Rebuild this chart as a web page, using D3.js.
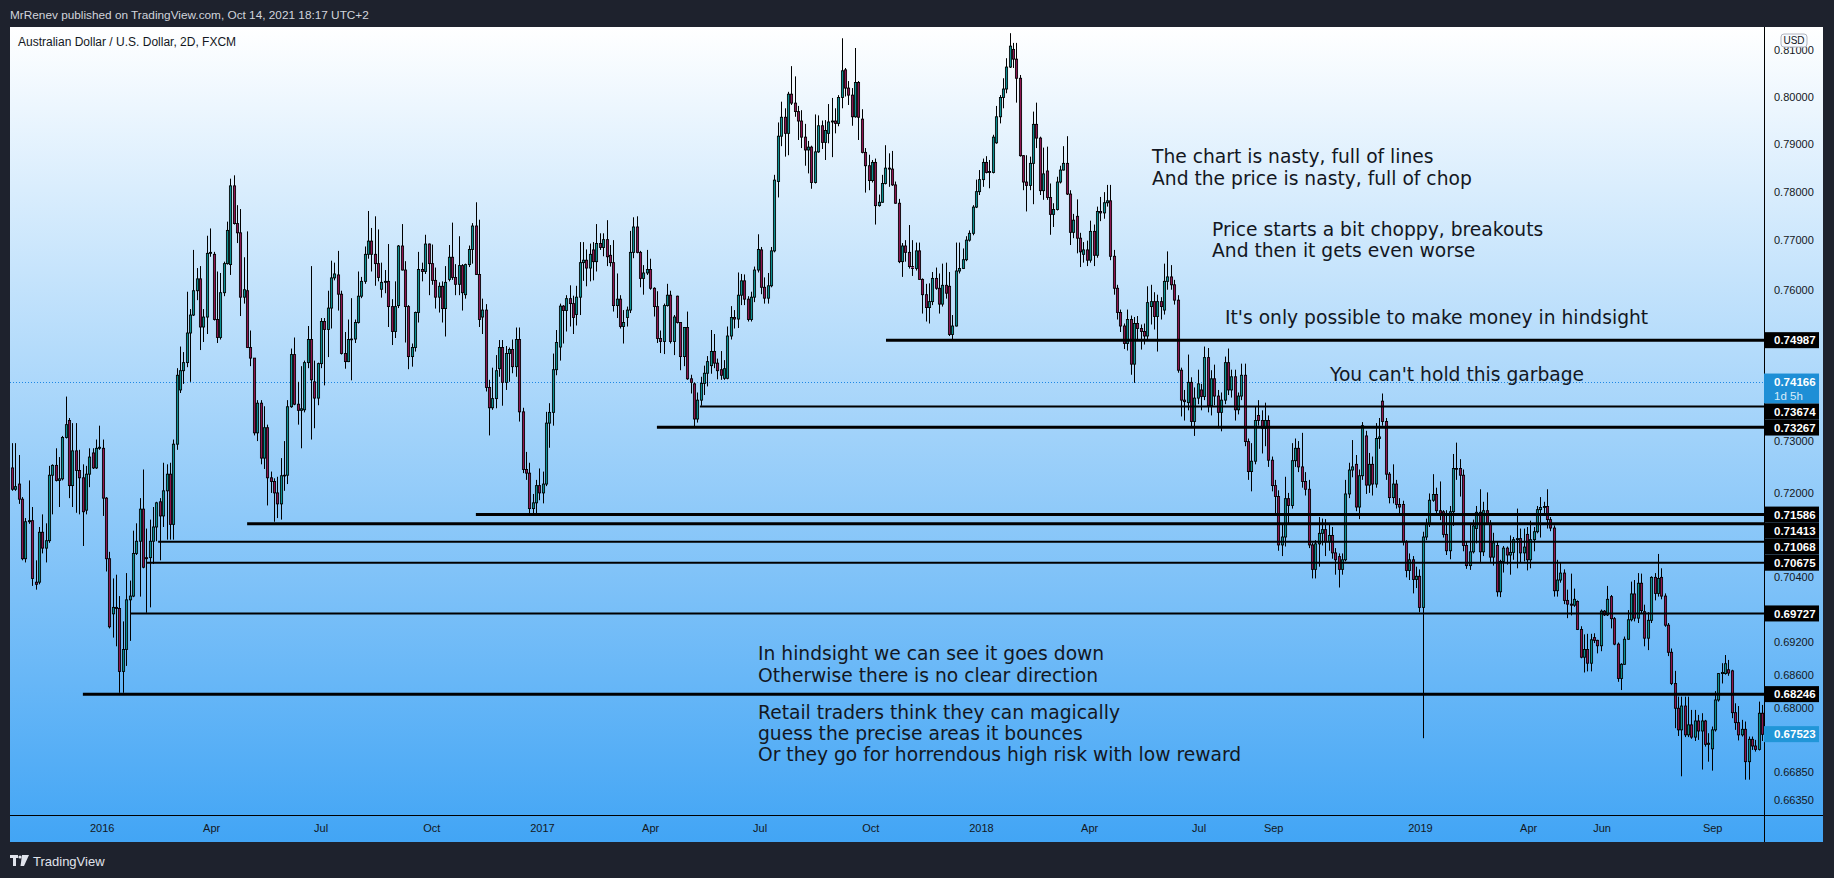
<!DOCTYPE html>
<html><head><meta charset="utf-8">
<script src="https://cdn.jsdelivr.net/npm/d3@7"></script>
<style>html,body{margin:0;padding:0;background:#1e222d;overflow:hidden}</style>
</head><body>
<svg id="c" width="1834" height="878"></svg>
<script>
// ---- DATA (prices in 1/10000 of a USD, AUD/USD 2D candles) ----
const opens = [
7248,7207,7217,7188,7075,7145,7147,7031,7031,7125,
7095,7109,7234,7253,7224,7227,7307,7340,7214,7281,
7243,7229,7167,7236,7277,7248,7286,7286,7190,7075,
6972,6984,6982,6866,6906,6998,7005,7085,7108,7169,
7077,7077,7108,7135,7183,7156,7204,7236,7140,7294,
7400,7438,7454,7513,7549,7598,7622,7525,7545,7674,
7672,7540,7504,7594,7653,7651,7813,7735,7716,7585,
7598,7484,7463,7316,7374,7267,7326,7229,7222,7200,
7179,7233,7234,7367,7470,7372,7360,7361,7454,7500,
7416,7384,7452,7536,7520,7563,7624,7630,7591,7472,
7456,7500,7501,7534,7587,7617,7672,7699,7672,7653,
7601,7615,7617,7566,7516,7568,7689,7640,7566,7466,
7484,7554,7641,7637,7693,7653,7619,7585,7607,7562,
7621,7666,7625,7611,7649,7590,7651,7682,7730,7631,
7545,7559,7405,7365,7383,7442,7484,7415,7472,7480,
7446,7500,7357,7245,7238,7170,7181,7214,7200,7217,
7335,7356,7440,7485,7567,7558,7582,7572,7550,7585,
7655,7660,7644,7681,7657,7694,7686,7702,7670,7655,
7568,7581,7526,7544,7559,7676,7728,7676,7623,7634,
7641,7603,7566,7502,7496,7568,7589,7496,7587,7534,
7466,7524,7422,7412,7343,7380,7413,7433,7448,7476,
7453,7440,7423,7423,7507,7544,7541,7589,7618,7581,
7540,7585,7640,7681,7605,7583,7608,7679,7822,7917,
7957,7923,8006,7987,7969,7949,7915,7888,7894,7820,
7884,7939,7904,7923,7947,7949,7944,7999,8058,8019,
8004,7958,8031,7953,7883,7855,7824,7862,7772,7779,
7818,7850,7848,7815,7777,7657,7689,7676,7647,7643,
7679,7621,7590,7564,7576,7623,7603,7571,7609,7607,
7510,7527,7638,7643,7661,7701,7715,7769,7801,7826,
7862,7841,7841,7903,7958,7999,8017,8064,8102,8081,
8040,7876,7821,7814,7860,7942,7913,7803,7844,7789,
7754,7764,7821,7846,7860,7796,7717,7750,7705,7672,
7681,7660,7719,7670,7760,7757,7778,7782,7668,7603,
7554,7527,7492,7540,7451,7532,7522,7516,7507,7566,
7576,7546,7576,7559,7617,7626,7610,7579,7439,7380,
7375,7415,7338,7384,7400,7387,7464,7369,7422,7388,
7356,7380,7454,7400,7426,7361,7388,7429,7299,7241,
7261,7350,7340,7325,7340,7263,7214,7193,7101,7116,
7189,7176,7262,7286,7250,7222,7207,7101,7055,7103,
7123,7130,7107,7119,7086,7079,7055,7073,7198,7244,
7255,7173,7233,7310,7215,7255,7217,7305,7378,7338,
7236,7191,7217,7178,7178,7107,7053,7073,7036,7042,
6984,7116,7141,7186,7197,7166,7164,7121,7090,7164,
7247,7247,7234,7100,7062,7088,7132,7163,7088,7166,
7141,7078,7100,7013,7070,7095,7082,7087,7111,7113,
7086,7121,7073,7111,7126,7168,7172,7174,7149,7133,
7015,7035,7048,6997,6990,6988,6995,6943,6892,6906,
6881,6928,6923,6913,6977,6970,7004,6963,6916,6853,
6879,6925,6961,7009,6964,7029,6976,6927,6960,7040,
7010,7040,7005,6951,6901,6844,6799,6760,6803,6751,
6769,6747,6776,6758,6776,6734,6726,6760,6814,6862,
6862,6869,6867,6791,6773,6751,6761,6703,6743,6731,
6725,6790];
const highs = [
7296,7296,7273,7192,7152,7224,7173,7072,7135,7159,
7142,7252,7255,7286,7269,7310,7387,7345,7335,7335,
7283,7255,7252,7286,7286,7303,7330,7303,7192,7088,
7038,7045,7005,6958,7048,7034,7128,7142,7190,7245,
7132,7149,7173,7183,7190,7258,7255,7258,7303,7443,
7486,7475,7596,7561,7681,7644,7648,7561,7710,7725,
7677,7637,7634,7657,7739,7828,7835,7773,7765,7666,
7719,7518,7463,7380,7380,7368,7332,7241,7228,7231,
7267,7300,7380,7482,7504,7416,7447,7458,7527,7648,
7458,7454,7543,7543,7598,7659,7655,7679,7598,7515,
7540,7583,7540,7637,7626,7688,7761,7726,7750,7723,
7655,7640,7693,7581,7617,7691,7734,7658,7569,7492,
7556,7677,7655,7712,7694,7692,7645,7615,7617,7648,
7691,7737,7652,7709,7652,7653,7690,7736,7779,7743,
7582,7571,7420,7444,7469,7499,7499,7487,7484,7500,
7524,7524,7365,7279,7258,7198,7225,7247,7241,7357,
7374,7472,7519,7572,7569,7589,7609,7588,7608,7697,
7697,7682,7694,7697,7734,7715,7715,7742,7691,7701,
7633,7589,7559,7566,7720,7748,7750,7679,7650,7681,
7663,7605,7597,7518,7572,7612,7598,7549,7588,7535,
7525,7556,7430,7415,7395,7426,7448,7467,7519,7511,
7462,7477,7459,7526,7567,7559,7635,7632,7631,7587,
7596,7647,7713,7687,7625,7634,7687,7836,7946,7990,
7976,8011,8066,8044,7981,7972,7943,7907,7897,7963,
7961,7950,7951,7985,7998,7976,8004,8126,8062,8034,
8019,8105,8034,7974,7892,7878,7867,7870,7795,7836,
7898,7881,7886,7822,7786,7695,7701,7732,7701,7696,
7696,7623,7612,7613,7636,7645,7633,7653,7655,7636,
7549,7696,7696,7684,7709,7721,7773,7826,7846,7870,
7875,7867,7920,7981,8004,8040,8083,8137,8116,8116,
8047,7877,7877,7874,7969,7988,7916,7893,7895,7818,
7777,7832,7855,7896,7917,7804,7755,7785,7716,7697,
7700,7741,7733,7770,7790,7800,7815,7815,7681,7610,
7560,7532,7560,7548,7545,7547,7530,7532,7607,7610,
7595,7590,7585,7653,7678,7650,7620,7589,7444,7400,
7470,7425,7405,7440,7412,7486,7483,7439,7450,7400,
7395,7466,7482,7440,7440,7395,7452,7452,7305,7296,
7367,7380,7360,7375,7350,7270,7225,7205,7140,7231,
7200,7296,7305,7300,7316,7240,7225,7105,7110,7154,
7151,7150,7140,7135,7095,7085,7085,7225,7258,7302,
7273,7245,7337,7320,7277,7270,7335,7345,7393,7345,
7240,7255,7225,7190,7185,7110,7085,7080,7060,7055,
7126,7151,7199,7236,7210,7222,7167,7167,7175,7275,
7297,7265,7245,7107,7139,7149,7175,7207,7183,7201,
7148,7124,7108,7073,7099,7098,7119,7116,7170,7132,
7132,7135,7147,7135,7175,7192,7183,7207,7154,7138,
7073,7068,7055,7017,7047,7019,6997,6949,6934,6935,
6935,6936,6924,6980,6979,7024,7007,6966,6919,6881,
6930,6979,7032,7035,7048,7047,6989,6975,7042,7048,
7084,7057,7010,6955,6908,6867,6820,6820,6820,6820,
6796,6796,6787,6790,6778,6754,6766,6830,6863,6881,
6896,6887,6869,6808,6803,6778,6775,6748,6748,6742,
6811,6805];
const lows = [
7204,7204,7179,7072,7068,7141,7024,7017,7027,7085,
7068,7105,7159,7222,7173,7224,7305,7190,7173,7162,
7159,7099,7159,7211,7246,7246,7283,7156,7051,6945,
6928,6912,6827,6827,6876,6922,7003,7082,7004,7057,
6974,6984,7065,7108,7072,7135,7111,7111,7111,7283,
7394,7412,7445,7416,7547,7579,7479,7495,7511,7667,
7538,7493,7500,7587,7651,7630,7733,7695,7547,7572,
7483,7447,7311,7300,7255,7246,7176,7200,7145,7152,
7149,7204,7217,7365,7370,7332,7286,7356,7443,7303,
7325,7370,7443,7409,7465,7522,7619,7558,7470,7442,
7455,7419,7493,7532,7583,7612,7663,7637,7608,7617,
7584,7593,7525,7489,7503,7563,7639,7494,7441,7446,
7476,7534,7617,7632,7589,7610,7562,7554,7534,7506,
7617,7620,7589,7589,7558,7582,7646,7653,7630,7525,
7511,7397,7311,7361,7364,7426,7369,7400,7416,7433,
7426,7338,7238,7225,7161,7161,7161,7186,7180,7213,
7287,7330,7429,7458,7492,7516,7526,7511,7528,7549,
7618,7607,7617,7619,7637,7681,7668,7648,7647,7556,
7543,7522,7492,7526,7553,7664,7674,7605,7590,7630,
7600,7546,7493,7473,7471,7566,7492,7469,7532,7439,
7447,7420,7393,7328,7336,7369,7390,7407,7432,7443,
7421,7420,7420,7421,7500,7522,7523,7569,7569,7536,
7536,7575,7635,7591,7572,7572,7605,7676,7789,7896,
7874,7877,7983,7958,7909,7892,7855,7839,7807,7818,
7882,7890,7867,7902,7873,7923,7938,7976,8001,7983,
7939,7956,7909,7881,7799,7804,7820,7733,7770,7778,
7816,7811,7813,7776,7654,7626,7657,7643,7628,7639,
7620,7552,7536,7532,7569,7600,7552,7566,7582,7507,
7500,7526,7633,7642,7658,7698,7711,7767,7794,7811,
7839,7808,7839,7901,7944,7976,8008,8062,8062,7988,
7874,7804,7760,7804,7775,7892,7794,7784,7784,7712,
7728,7762,7818,7845,7794,7691,7705,7674,7646,7655,
7648,7655,7648,7665,7740,7745,7770,7660,7590,7540,
7515,7481,7478,7430,7414,7500,7480,7490,7500,7530,
7520,7476,7540,7550,7600,7600,7570,7434,7348,7340,
7360,7326,7310,7372,7360,7380,7356,7350,7370,7325,
7319,7372,7390,7385,7340,7352,7380,7290,7225,7203,
7255,7330,7276,7290,7250,7203,7160,7090,7080,7098,
7142,7170,7250,7240,7210,7195,7095,7038,7038,7060,
7100,7080,7090,7075,7045,7021,7045,7070,7190,7230,
7165,7150,7225,7198,7200,7195,7210,7285,7330,7225,
7180,7180,7170,7160,7100,7040,7035,7010,7020,6975,
6745,7110,7135,7183,7160,7148,7115,7082,7074,7137,
7225,7193,7089,7056,7054,7085,7104,7069,7080,7140,
7069,7062,7004,7003,7049,7064,7045,7073,7057,7067,
7070,7053,7057,7089,7123,7115,7157,7132,7127,7004,
7004,7030,6990,6964,6969,6985,6942,6890,6864,6866,
6866,6918,6899,6903,6968,6968,6945,6914,6847,6832,
6878,6924,6958,6958,6955,6973,6912,6905,6955,6997,
7004,6999,6948,6894,6841,6763,6749,6677,6747,6747,
6744,6740,6742,6689,6730,6703,6687,6757,6811,6844,
6860,6858,6781,6760,6741,6748,6671,6671,6724,6721,
6723,6740];
const closes = [
7207,7212,7188,7075,7145,7147,7038,7027,7125,7095,
7109,7234,7253,7224,7227,7307,7332,7214,7281,7243,
7229,7164,7236,7269,7248,7286,7288,7190,7075,6948,
6984,6982,6866,6906,6998,7005,7085,7108,7169,7059,
7075,7108,7135,7181,7156,7204,7236,7140,7294,7429,
7438,7454,7513,7549,7598,7622,7525,7545,7674,7676,
7540,7504,7594,7653,7721,7813,7735,7716,7585,7600,
7484,7463,7316,7374,7267,7326,7229,7222,7200,7179,
7233,7234,7367,7470,7372,7360,7363,7454,7500,7420,
7384,7452,7536,7520,7563,7624,7632,7591,7472,7456,
7500,7501,7534,7587,7617,7672,7699,7672,7653,7625,
7615,7617,7566,7516,7566,7689,7640,7566,7466,7484,
7554,7641,7637,7693,7653,7619,7585,7607,7562,7615,
7666,7625,7611,7649,7594,7651,7682,7730,7631,7540,
7559,7405,7365,7383,7438,7484,7415,7472,7480,7446,
7500,7357,7245,7238,7170,7181,7214,7200,7217,7335,
7356,7440,7494,7567,7558,7582,7572,7544,7585,7655,
7660,7644,7672,7657,7694,7686,7702,7667,7655,7568,
7581,7526,7534,7559,7676,7728,7676,7623,7634,7641,
7603,7566,7502,7496,7568,7589,7496,7545,7534,7466,
7524,7422,7415,7343,7380,7413,7433,7456,7476,7453,
7438,7429,7442,7507,7544,7541,7589,7618,7581,7540,
7585,7640,7682,7605,7583,7608,7679,7825,7917,7957,
7923,8006,7987,7969,7949,7915,7888,7894,7820,7884,
7939,7904,7929,7947,7949,7944,7999,8056,8019,8004,
7958,8031,7957,7883,7855,7824,7862,7772,7779,7818,
7850,7848,7815,7777,7657,7689,7676,7647,7643,7679,
7621,7590,7564,7576,7623,7603,7571,7609,7593,7510,
7527,7638,7643,7661,7701,7715,7769,7801,7826,7862,
7841,7843,7915,7958,7999,8017,8064,8109,8081,8040,
7876,7821,7814,7860,7942,7913,7803,7838,7789,7754,
7764,7821,7846,7860,7796,7717,7742,7705,7677,7681,
7660,7719,7670,7760,7757,7778,7782,7668,7603,7554,
7527,7492,7540,7451,7532,7522,7516,7507,7574,7576,
7546,7576,7566,7617,7626,7610,7579,7439,7380,7377,
7415,7338,7384,7412,7387,7464,7369,7422,7388,7356,
7380,7454,7400,7426,7361,7388,7429,7299,7241,7261,
7340,7340,7325,7340,7263,7214,7193,7101,7116,7189,
7176,7262,7286,7250,7222,7207,7101,7055,7103,7123,
7130,7107,7119,7086,7073,7055,7073,7198,7244,7250,
7173,7233,7330,7215,7255,7217,7305,7308,7338,7236,
7191,7217,7178,7173,7107,7053,7073,7036,7042,6984,
7116,7141,7186,7197,7166,7161,7121,7090,7164,7247,
7246,7234,7100,7062,7088,7137,7163,7088,7166,7141,
7078,7105,7013,7070,7095,7082,7087,7111,7113,7086,
7097,7073,7111,7126,7168,7172,7174,7149,7133,7015,
7035,7048,6997,6990,6988,6999,6943,6892,6906,6881,
6924,6923,6913,6977,6970,6999,6963,6916,6853,6879,
6925,6961,7009,6964,7029,6978,6927,6960,7040,7010,
7038,7005,6951,6901,6844,6799,6760,6803,6751,6769,
6747,6776,6758,6776,6734,6736,6760,6814,6862,6864,
6880,6863,6791,6773,6751,6761,6703,6743,6731,6725,
6790,6752];
const PRICE_UNIT = 10000;
const firstBarDate = "2015-10-18", lastBarDate = "2019-10-12";

const timeTickDates  = ["2016-01-01","2016-04-01","2016-07-01","2016-10-01","2017-01-01","2017-04-01","2017-07-01","2017-10-01","2018-01-01","2018-04-01","2018-07-01","2018-09-01","2019-01-01","2019-04-01","2019-06-01","2019-09-01"];
const timeTickLabels = ["2016","Apr","Jul","Oct","2017","Apr","Jul","Oct","2018","Apr","Jul","Sep","2019","Apr","Jun","Sep"];
const priceTicks = [0.81, 0.80, 0.79, 0.78, 0.77, 0.76, 0.73, 0.72, 0.704, 0.692, 0.686, 0.680, 0.6685, 0.6635];

// horizontal levels drawn by the author, with the bar where each one starts
const levelPrices   = [0.74987, 0.73674, 0.73267, 0.71586, 0.71413, 0.71068, 0.70675, 0.69727, 0.68246];
const levelStartBar = [260.2, 204.8, 192, 138.1, 70, 43.5, 40.2, 35.4, 21.1];
const levelHeavy    = [true, false, true, true, true, false, false, false, true];

const currentPrice = 0.74166, currentCountdown = "1d 5h";
const lastPrice = 0.67523;

const headerText = "MrRenev published on TradingView.com, Oct 14, 2021 18:17 UTC+2";
const titleText = "Australian Dollar / U.S. Dollar, 2D, FXCM";
const notes = [
  "The chart is nasty, full of lines",
  "And the price is nasty, full of chop",
  "Price starts a bit choppy, breakouts",
  "And then it gets even worse",
  "It's only possible to make money in hindsight",
  "You can't hold this garbage",
  "In hindsight we can see it goes down",
  "Otherwise there is no clear direction",
  "Retail traders think they can magically",
  "guess the precise areas it bounces",
  "Or they go for horrendous high risk with low reward"
];

// ---- LAYOUT ----
const L = {panelX0:10, panelY0:27, panelX1:1823, panelY1:842, axisX:1764, axisY:815,
  barX0:12, barX1:1762, yTop:97, yBot:800};
const notePos = [[1152,163],[1152,185],[1212,236],[1212,257],[1225,324],[1330,381],
  [758,660],[758,682],[758,719],[758,740],[758,761]];
const UP="#0a8f91", DOWN="#8c1550";

const svg = d3.select("#c");
const defs = svg.append("defs");
const g = defs.append("linearGradient").attr("id","bg").attr("x1",0).attr("y1",0).attr("x2",0).attr("y2",1);
g.append("stop").attr("offset","0%").attr("stop-color","#ffffff");
g.append("stop").attr("offset","100%").attr("stop-color","#42a5f5");
defs.append("clipPath").attr("id","plot").append("rect")
  .attr("x",L.panelX0).attr("y",L.panelY0).attr("width",L.axisX-L.panelX0).attr("height",L.axisY-L.panelY0);

// header
svg.append("text").attr("x",10).attr("y",19).text(headerText)
  .attr("font-family","Liberation Sans, Arial, sans-serif").attr("font-size",11.8).attr("fill","#d1d4dc");

svg.append("rect").attr("x",L.panelX0).attr("y",L.panelY0)
  .attr("width",L.panelX1-L.panelX0).attr("height",L.panelY1-L.panelY0).attr("fill","url(#bg)");

const N = Math.min(opens.length, highs.length, lows.length, closes.length);
const x = d3.scaleLinear().domain([0, N-1]).range([L.barX0, L.barX1]);
const parse = d3.utcParse("%Y-%m-%d");
const xt = d3.scaleUtc().domain([parse(firstBarDate), parse(lastBarDate)]).range([L.barX0, L.barX1]);
const y = d3.scaleLog().domain([0.8, 0.6635]).range([L.yTop, L.yBot]);
const yp = v => y(v / PRICE_UNIT);

const plot = svg.append("g").attr("clip-path","url(#plot)");

// current-price dotted line
plot.append("line").attr("x1",L.panelX0).attr("x2",L.axisX)
  .attr("y1",Math.round(y(currentPrice))+0.5).attr("y2",Math.round(y(currentPrice))+0.5)
  .attr("stroke","#1e88e5").attr("stroke-width",1).attr("stroke-dasharray","1,2");

// candles
const bars = plot.append("g");
for (let i=0;i<N;i++){
  const cx = Math.round(x(i));
  bars.append("line").attr("x1",cx+0.5).attr("x2",cx+0.5)
    .attr("y1",yp(highs[i])).attr("y2",yp(lows[i])).attr("stroke","#000").attr("stroke-width",1);
  const top = yp(Math.max(opens[i],closes[i])), bot = yp(Math.min(opens[i],closes[i]));
  bars.append("rect").attr("x",cx-0.6).attr("width",2.2)
    .attr("y",top).attr("height",Math.max(0.8,bot-top))
    .attr("fill", closes[i]>=opens[i]?UP:DOWN).attr("stroke","#000").attr("stroke-width",0.85);
}

// levels
levelPrices.forEach((p,k)=>{
  const yy = y(p);
  plot.append("line").attr("x1",x(levelStartBar[k])).attr("x2",L.axisX).attr("y1",yy).attr("y2",yy)
    .attr("stroke","#000").attr("stroke-width",levelHeavy[k]?3:2);
});

// notes
const nt = svg.append("g").attr("font-family","DejaVu Sans, sans-serif").attr("font-size",18.7).attr("fill","#131722");
notes.forEach((t,k)=> nt.append("text").attr("x",notePos[k][0]).attr("y",notePos[k][1]).text(t));

// title
svg.append("text").attr("x",18).attr("y",46).text(titleText)
  .attr("font-family","Liberation Sans, Arial, sans-serif").attr("font-size",12).attr("fill","#131722");

// axes lines
svg.append("line").attr("x1",L.panelX0).attr("x2",L.panelX1).attr("y1",L.axisY+0.5).attr("y2",L.axisY+0.5).attr("stroke","#000");
svg.append("line").attr("x1",L.axisX+0.5).attr("x2",L.axisX+0.5).attr("y1",L.panelY0).attr("y2",L.panelY1).attr("stroke","#000");

// price axis ticks
const ax = svg.append("g").attr("font-family","Liberation Sans, Arial, sans-serif").attr("font-size",11).attr("fill","#131722");
priceTicks.forEach(p=> ax.append("text").attr("x",1774).attr("y",y(p)).attr("dy","0.35em").text(p.toFixed(5)));

// time axis ticks
const tx = svg.append("g").attr("font-family","Liberation Sans, Arial, sans-serif").attr("font-size",11).attr("fill","#131722").attr("text-anchor","middle");
timeTickDates.forEach((d,k)=> tx.append("text").attr("x",xt(parse(d))).attr("y",828).attr("dy","0.35em").text(timeTickLabels[k]));

// price-scale labels, stacked so they never overlap (as the scale does)
const labels = levelPrices.map(p=>({p, text:p.toFixed(5), h:16, fill:"#000"}));
labels.push({p:currentPrice, text:currentPrice.toFixed(5), sub:currentCountdown, h:30, fill:"#1e8fd6"});
labels.push({p:lastPrice, text:lastPrice.toFixed(5), h:16, fill:"#2196d8"});
labels.sort((a,b)=>y(a.p)-y(b.p));
let prevBottom = -1e9;
const lab = svg.append("g").attr("font-family","Liberation Sans, Arial, sans-serif").attr("font-size",11.5).attr("font-weight","bold");
labels.forEach(d=>{
  const top = Math.max(y(d.p)-8, prevBottom);
  prevBottom = top + d.h;
  lab.append("rect").attr("x",L.axisX).attr("y",top).attr("width",55).attr("height",d.h).attr("fill",d.fill);
  lab.append("text").attr("x",1774).attr("y",top+8).attr("dy","0.36em").attr("fill","#fff").text(d.text);
  if (d.sub) lab.append("text").attr("x",1774).attr("y",top+22).attr("dy","0.36em")
    .attr("fill","#d8ecfa").attr("font-weight","normal").text(d.sub);
});

// USD badge
svg.append("rect").attr("x",1781).attr("y",34).attr("width",26).attr("height",13).attr("rx",3)
  .attr("fill","#f8fbff").attr("stroke","#b2b5be");
svg.append("text").attr("x",1794).attr("y",40.5).attr("dy","0.35em").attr("text-anchor","middle")
  .attr("font-family","Liberation Sans, Arial, sans-serif").attr("font-size",10).attr("fill","#131722").text("USD");

// footer logo
const lg = svg.append("g").attr("fill","#e0e3eb");
lg.append("rect").attr("x",10).attr("y",855).attr("width",8).attr("height",3);
lg.append("rect").attr("x",13).attr("y",855).attr("width",3).attr("height",11);
lg.append("circle").attr("cx",20).attr("cy",857).attr("r",1.6);
lg.append("path").attr("d","M22,855 L29,855 L24,866 L20.5,866 Z");
svg.append("text").attr("x",33).attr("y",866).text("TradingView")
  .attr("font-family","Liberation Sans, Arial, sans-serif").attr("font-size",13).attr("fill","#e0e3eb");
</script>
</body></html>
